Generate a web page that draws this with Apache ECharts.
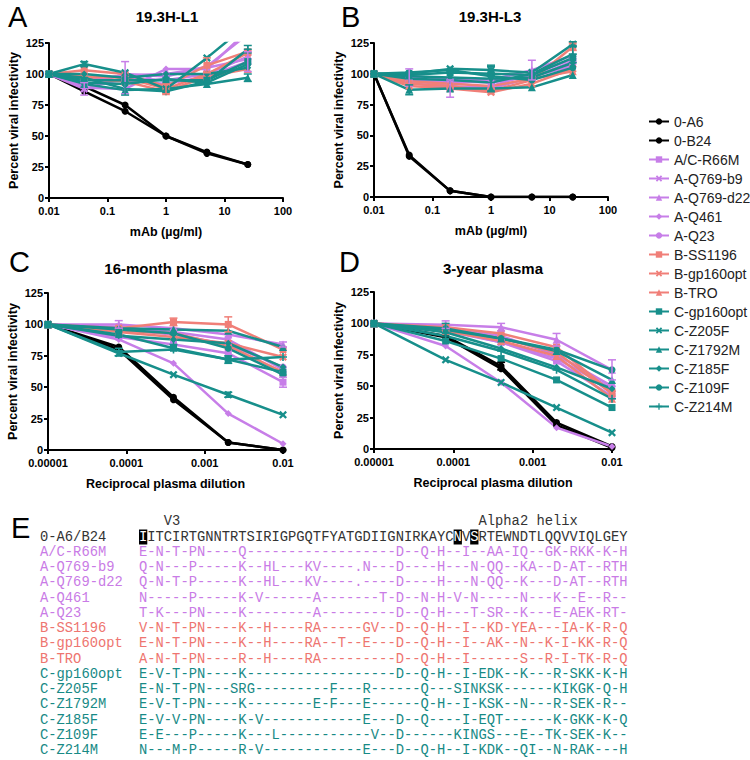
<!DOCTYPE html>
<html><head><meta charset="utf-8">
<script src="https://cdn.jsdelivr.net/npm/echarts@6/dist/echarts.min.js"></script>
<style>html,body{margin:0;padding:0;background:#fff}#c{width:750px;height:760px}</style>
</head><body><div id="c"></div>
<script>
// ---------- data ----------
const seriesNames = ['0-A6','0-B24','A/C-R66M','A-Q769-b9','A-Q769-d22','A-Q461','A-Q23','B-SS1196','B-gp160opt','B-TRO','C-gp160opt','C-Z205F','C-Z1792M','C-Z185F','C-Z109F','C-Z214M'];
const seriesGroup = ['0','0','A','A','A','A','A','B','B','B','C','C','C','C','C','C'];
const seriesMarker = ['circle','circle','rect','x','triangle','diamond','circle','rect','x','triangle','rect','x','triangle','diamond','circle','plus'];

const mAbDoses = [0.01, 0.04, 0.2, 1, 5, 25];
const plasmaDilutions = [0.00001, 0.00008, 0.0004, 0.002, 0.01];
const mAbTickLabels = ['0.01','0.1','1','10','100'];
const plasmaTickLabels = ['0.00001','0.0001','0.001','0.01'];
const panelTitles = ['19.3H-L1','19.3H-L3','16-month plasma','3-year plasma'];
const panelLetters = ['A','B','C','D','E'];

// Panel A: 19.3H-L1 (% infectivity at mAbDoses)
const infectivityA = [
  [100, 90, 75, 50, 37, 27],
  [100, 86, 70, 50, 36, 27],
  [100, 92, 95, 92, 98, 110],
  [100, 88, 97, 95, 100, 114],
  [100, 91, 100, 98, 106, 132],
  [100, 89, 88, 104, 104, 135],
  [100, 95, 99, 100, 105, 112],
  [100, 103, 100, 90, 107, 118],
  [100, 98, 97, 88, 100, 117],
  [100, 96, 94, 86, 98, 104],
  [100, 95, 95, 95, 95, 110],
  [100, 108, 101, 88, 113, 140],
  [100, 92, 87, 88, 92, 97],
  [100, 100, 97, 100, 100, 105],
  [100, 93, 92, 96, 93, 108],
  [100, 97, 88, 86, 94, 120]
];
// Panel B: 19.3H-L3
const infectivityB = [
  [100, 34, 5, 0, 0, 0],
  [100, 33, 5, 0, 0, 0],
  [100, 95, 90, 88, 97, 110],
  [100, 93, 88, 90, 100, 112],
  [100, 97, 92, 95, 103, 115],
  [100, 98, 96, 95, 98, 108],
  [100, 95, 94, 93, 98, 106],
  [100, 92, 90, 86, 95, 122],
  [100, 90, 88, 85, 92, 104],
  [100, 94, 92, 90, 96, 102],
  [100, 99, 101, 100, 99, 113],
  [100, 100, 104, 103, 101, 124],
  [100, 87, 88, 88, 89, 99],
  [100, 98, 97, 96, 97, 109],
  [100, 101, 103, 98, 95, 105],
  [100, 96, 95, 93, 100, 116]
];
// Panel C: 16-month plasma (% infectivity at plasmaDilutions)
const infectivityC = [
  [100, 82, 42, 6, 0],
  [100, 80, 40, 6, 0],
  [100, 90, 84, 77, 54],
  [100, 98, 94, 88, 64],
  [100, 100, 97, 92, 84],
  [100, 88, 69, 29, 5],
  [100, 96, 92, 84, 66],
  [100, 97, 102, 100, 80],
  [100, 94, 90, 85, 74],
  [100, 95, 93, 83, 62],
  [100, 92, 81, 72, 62],
  [100, 77, 60, 44, 28],
  [100, 97, 96, 95, 82],
  [100, 91, 88, 85, 66],
  [100, 96, 93, 81, 60],
  [100, 78, 80, 72, 74]
];
// Panel D: 3-year plasma
const infectivityD = [
  [100, 90, 66, 21, 2],
  [100, 89, 64, 19, 1],
  [100, 95, 85, 70, 42],
  [100, 94, 85, 72, 48],
  [100, 99, 97, 87, 63],
  [100, 82, 53, 17, 2],
  [100, 97, 90, 75, 50],
  [100, 97, 92, 81, 45],
  [100, 96, 88, 77, 44],
  [100, 94, 86, 74, 40],
  [100, 86, 72, 55, 33],
  [100, 71, 53, 33, 13],
  [100, 95, 88, 78, 55],
  [100, 93, 80, 65, 48],
  [100, 96, 88, 79, 63],
  [100, 90, 78, 63, 40]
];
// error bars: [series index, point index, +/- error]
const errorsA = [[11,1,2],[3,1,5],[3,2,13],[8,3,4],[7,4,6],[15,5,3],[12,5,3],[2,5,8],[15,2,5]];
const errorsB = [[4,1,7],[12,1,4],[3,2,7],[11,3,4],[13,3,10],[4,4,8],[7,5,3],[11,5,2],[15,5,7]];
const errorsC = [[4,1,3],[15,1,3],[11,1,2],[7,2,3],[13,2,4],[7,3,6],[10,3,3],[11,3,2],[2,4,4],[4,4,2]];
const errorsD = [[4,1,3],[14,1,4],[0,2,3],[4,2,3],[4,3,5],[4,4,8]];

// alignment
const alignNames = ['0-A6/B24','A/C-R66M','A-Q769-b9','A-Q769-d22','A-Q461','A-Q23','B-SS1196','B-gp160opt','B-TRO','C-gp160opt','C-Z205F','C-Z1792M','C-Z185F','C-Z109F','C-Z214M'];
const alignGroup = ['0','A','A','A','A','A','B','B','B','C','C','C','C','C','C'];
const alignSeqs = [
  'IITCIRTGNNTRTSIRIGPGQTFYATGDIIGNIRKAYCNVSRTEWNDTLQQVVIQLGEY',
  'E-N-T-PN----Q------------------D--Q-H--I--AA-IQ--GK-RKK-K-H',
  'Q-N---P-----K--HL---KV----.N---D----H---N-QQ--KA--D-AT--RTH',
  'Q-N-T-P-----K--HL---KV----.----D----H---N-QQ--K---D-AT--RTH',
  'N-----P-----K-V------A-------T-D--N-H-V-N-----N---K--E--R--',
  'T-K---PN----K--------A---------D--Q-H---T-SR--K---E-AEK-RT-',
  'V-N-T-PN----K--H----RA-----GV--D--Q-H--I--KD-YEA---IA-K-R-Q',
  'E-N-T-PN----K--H----RA--T--E---D--Q-H--I--AK--N--K-I-KK-R-Q',
  'A-N-T-PN----R--H----RA---------D--Q-H--I------S--R-I-TK-R-Q',
  'E-V-T-PN----K------------------D--Q-H--I-EDK--K---R-SKK-K-H',
  'E-N-T-PN---SRG---------F---R------Q---SINKSK------KIKGK-Q-H',
  'E-V-T-PN----K--------E-F---E------Q-H--I-KSK--N---R-SEK-R--',
  'E-V-V-PN----K-V------------E---D--Q----I-EQT------K-GKK-K-Q',
  'E-E---P-----K---L-----------V--D------KINGS---E--TK-SEK-K--',
  'N---M-P-----R-V------------E---D--Q-H--I-KDK--QI--N-RAK---H'
];
const highlightPositions = [0, 38, 40];
const regionLabels = [['V3', 3], ['Alpha2 helix', 41]];

// ---------- styling ----------
const groupColor = {'0':'#000000','A':'#c77ee8','B':'#f07f78','C':'#178f8b'};
const seqColor = {'0':'#333333','A':'#c97be6','B':'#ee7570','C':'#178a86'};
const symbolPath = {
  x: 'path://M2,0L5,3L8,0L10,2L7,5L10,8L8,10L5,7L2,10L0,8L3,5L0,2Z',
  plus: 'path://M4,0H6V4H10V6H6V10H4V6H0V4H4Z'
};
const SANS = 'Liberation Sans, Arial, sans-serif';
const MONO = 'Liberation Mono, Courier New, monospace';

const grids = [
  {left: 49, top: 43, width: 234, height: 155},
  {left: 374, top: 43, width: 234, height: 154},
  {left: 48, top: 293, width: 235, height: 157},
  {left: 374, top: 292, width: 238, height: 157}
];
const panelData = [infectivityA, infectivityB, infectivityC, infectivityD];
const panelErrors = [errorsA, errorsB, errorsC, errorsD];
const panelX = [mAbDoses, mAbDoses, plasmaDilutions, plasmaDilutions];

const axisLine = {show: true, lineStyle: {color: '#000', width: 2}};
const axisTick = {show: true, length: 4, lineStyle: {color: '#000', width: 2}};
const tickFont = {color: '#000', fontSize: 11, fontWeight: 'bold', fontFamily: SANS};
const nameFont = {color: '#000', fontSize: 12.5, fontWeight: 'bold', fontFamily: SANS};

const xAxes = grids.map((g, p) => {
  const isMab = p < 2;
  const labels = isMab ? mAbTickLabels : plasmaTickLabels;
  const minExp = isMab ? -2 : -5;
  return {
    type: 'log', logBase: 10, gridIndex: p,
    min: isMab ? 0.01 : 0.00001, max: isMab ? 100 : 0.01,
    axisLine, axisTick, splitLine: {show: false}, minorTick: {show: false},
    axisLabel: Object.assign({margin: 7, formatter: v => labels[Math.round(Math.log10(v)) - minExp] || ''}, tickFont),
    name: isMab ? 'mAb (µg/ml)' : 'Reciprocal plasma dilution',
    nameLocation: 'middle', nameGap: 27, nameTextStyle: nameFont
  };
});
const yAxes = grids.map((g, p) => ({
  type: 'value', gridIndex: p, min: 0, max: 125, interval: 25,
  axisLine, axisTick, splitLine: {show: false},
  axisLabel: Object.assign({margin: 5}, tickFont),
  name: 'Percent viral infectivity', nameLocation: 'middle', nameGap: 29, nameTextStyle: nameFont
}));

const series = [];
panelData.forEach((vals, p) => {
  vals.forEach((row, i) => {
    const col = groupColor[seriesGroup[i]];
    const m = seriesMarker[i];
    series.push({
      type: 'line', name: seriesNames[i], xAxisIndex: p, yAxisIndex: p,
      data: row.map((v, j) => [panelX[p][j], v]),
      symbol: symbolPath[m] || m,
      symbolSize: m === 'triangle' ? 8 : (m === 'x' || m === 'plus' ? 8 : 7),
      showSymbol: true, clip: true,
      lineStyle: {color: col, width: 2.5},
      itemStyle: {color: col},
      emphasis: {disabled: true},
      animation: false, z: 2
    });
  });
  series.push({
    type: 'custom', xAxisIndex: p, yAxisIndex: p, silent: true, animation: false, z: 3,
    data: panelErrors[p].map(e => [panelX[p][e[1]], vals[e[0]][e[1]], e[2], e[0]]),
    renderItem: (params, api) => {
      const x = api.value(0), y = api.value(1), er = api.value(2);
      const col = groupColor[seriesGroup[api.value(3)]];
      const t = api.coord([x, y + er]), b = api.coord([x, y - er]);
      const st = {stroke: col, lineWidth: 1.5};
      return {type: 'group', children: [
        {type: 'line', shape: {x1: t[0], y1: t[1], x2: b[0], y2: b[1]}, style: st},
        {type: 'line', shape: {x1: t[0] - 4, y1: t[1], x2: t[0] + 4, y2: t[1]}, style: st},
        {type: 'line', shape: {x1: b[0] - 4, y1: b[1], x2: b[0] + 4, y2: b[1]}, style: st}
      ]};
    }
  });
});

// ---------- graphics: titles, letters, alignment ----------
const graphics = [];
const titlePos = [[167, 16], [490, 16], [166, 268], [493, 268]];
panelTitles.forEach((t, i) => graphics.push({type: 'text', x: titlePos[i][0], y: titlePos[i][1],
  style: {text: t, align: 'center', verticalAlign: 'middle', font: 'bold 15px ' + SANS, fill: '#000'}}));
const letterPos = [[8, 17], [341, 17], [9, 262], [339, 262], [11, 528]];
panelLetters.forEach((t, i) => graphics.push({type: 'text', x: letterPos[i][0], y: letterPos[i][1],
  style: {text: t, align: 'left', verticalAlign: 'middle', font: '29px ' + SANS, fill: '#000'}}));

const SEQ_FONT = 13.8;
const CHAR_W = SEQ_FONT * 0.6;
const rowY0 = 537, rowDy = 15.25, nameX = 40, seqX = 139;
regionLabels.forEach(([t, pos]) => graphics.push({type: 'text', x: seqX + pos * CHAR_W, y: rowY0 - 16,
  style: {text: t, align: 'left', verticalAlign: 'middle', font: SEQ_FONT + 'px ' + MONO, fill: '#333'}}));
alignNames.forEach((n, r) => {
  const col = seqColor[alignGroup[r]];
  const y = rowY0 + r * rowDy;
  graphics.push({type: 'text', x: nameX, y,
    style: {text: n, align: 'left', verticalAlign: 'middle', font: SEQ_FONT + 'px ' + MONO, fill: col}});
  const s = alignSeqs[r];
  let txt = s;
  if (r === 0) {
    txt = s.split('').map((c, k) => highlightPositions.includes(k) ? '{h|' + c + '}' : c).join('');
  }
  graphics.push({type: 'text', x: seqX, y,
    style: {text: txt, align: 'left', verticalAlign: 'middle', fontSize: SEQ_FONT, fontFamily: MONO, fill: col,
      rich: {h: {backgroundColor: '#000', fill: '#ffffff', color: '#ffffff', fontSize: SEQ_FONT, fontFamily: MONO, padding: [1, 0, 0, 0]}}}});
});

const chart = echarts.init(document.getElementById('c'), null, {renderer: 'svg'});
chart.setOption({
  animation: false,
  backgroundColor: '#fff',
  grid: grids,
  xAxis: xAxes,
  yAxis: yAxes,
  legend: {
    orient: 'vertical', left: 643, top: 107, itemWidth: 20, itemHeight: 8, itemGap: 0,
    data: seriesNames, selectedMode: false,
    textStyle: {fontSize: 14, color: '#222', fontFamily: SANS, lineHeight: 19}
  },
  series,
  graphic: graphics
});
</script></body></html>
